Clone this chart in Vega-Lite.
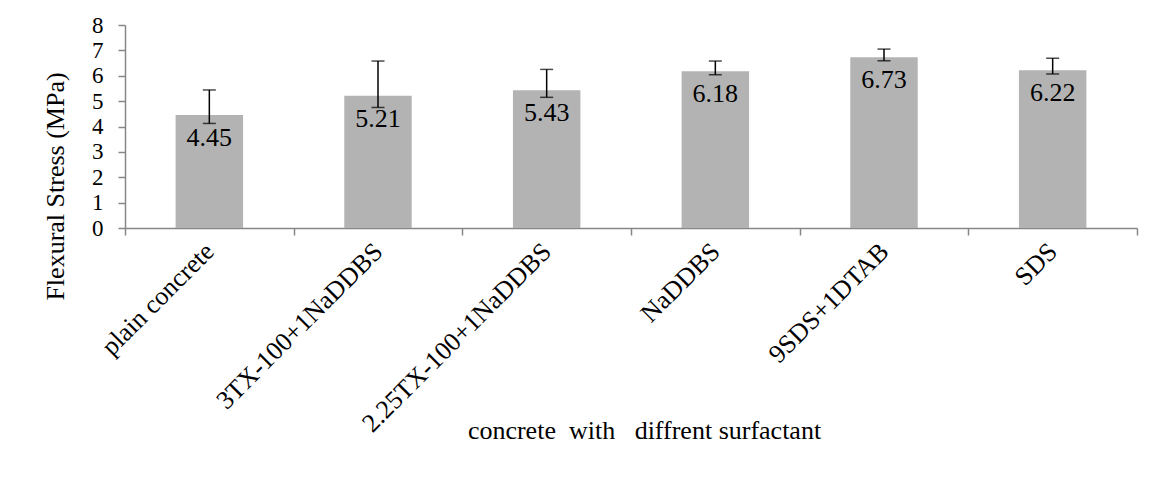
{
  "$schema": "https://vega.github.io/schema/vega-lite/v6.json",
  "width": 1012,
  "height": 203,
  "autosize": "none",
  "padding": {"left": 125, "top": 25, "right": 23, "bottom": 251},
  "background": "white",
  "config": {
    "view": {"stroke": null},
    "font": "Liberation Serif",
    "text": {"font": "Liberation Serif"},
    "axis": {"labelFont": "Liberation Serif", "titleFont": "Liberation Serif", "labelColor": "black", "titleColor": "black", "titleFontWeight": "normal"},
    "axisY": {
      "tickCount": 8,
      "grid": false,
      "labelFontSize": 23,
      "labelOverlap": false,
      "labelPadding": 15,
      "labelBaseline": "middle",
      "tickSize": 7,
      "tickColor": "#878787",
      "domainColor": "#878787",
      "domainWidth": 1.5,
      "tickWidth": 1.5,
      "titleFontSize": 26
    }
  },
  "data": {
    "values": [
      {"surfactant": "plain concrete", "stress": 4.45, "low": 4.12, "high": 5.44},
      {"surfactant": "3TX-100+1NaDDBS", "stress": 5.21, "low": 4.75, "high": 6.58},
      {"surfactant": "2.25TX-100+1NaDDBS", "stress": 5.43, "low": 5.15, "high": 6.25},
      {"surfactant": "NaDDBS", "stress": 6.18, "low": 6.04, "high": 6.58},
      {"surfactant": "9SDS+1DTAB", "stress": 6.73, "low": 6.59, "high": 7.05},
      {"surfactant": "SDS", "stress": 6.22, "low": 6.07, "high": 6.69}
    ]
  },
  "encoding": {
    "x": {
      "field": "surfactant",
      "type": "nominal",
      "sort": null,
      "scale": {"paddingInner": 0, "paddingOuter": 0},
      "axis": {
        "title": "concrete\u00a0\u00a0with\u00a0\u00a0\u00a0diffrent surfactant",
        "titleFont": "Liberation Serif",
        "titleFontSize": 26,
        "titleX": 519,
        "titleY": 210,
        "titleBaseline": "alphabetic",
        "titleAnchor": null,
        "labelAngle": -45,
        "labelAlign": "right",
        "labelBaseline": "middle",
        "labelFont": "Liberation Serif",
        "labelFontSize": 26,
        "labelPadding": 12,
        "labelLimit": 400,
        "tickBand": "extent",
        "tickSize": 7,
        "tickColor": "#878787",
        "domainColor": "#878787",
        "domainWidth": 1.5,
        "tickWidth": 1.5
      }
    }
  },
  "layer": [
    {
      "mark": {"type": "bar", "width": {"band": 0.4}, "color": "#b3b3b3"},
      "encoding": {
        "y": {
          "field": "stress",
          "type": "quantitative",
          "scale": {"domain": [0, 8], "nice": false},
          "axis": {
            "title": "Flexural Stress (MPa)",
            "titleAngle": -90,
            "titleX": -70,
            "titleY": 161,
            "titleAlign": "center",
            "titleBaseline": "middle"
          }
        }
      }
    },
    {
      "mark": {"type": "rule", "color": "black", "strokeWidth": 1.5},
      "encoding": {
        "y": {"field": "low", "type": "quantitative"},
        "y2": {"field": "high"}
      }
    },
    {
      "mark": {"type": "tick", "color": "black", "size": 13, "thickness": 1.5},
      "encoding": {"y": {"field": "low", "type": "quantitative"}}
    },
    {
      "mark": {"type": "tick", "color": "black", "size": 13, "thickness": 1.5},
      "encoding": {"y": {"field": "high", "type": "quantitative"}}
    },
    {
      "mark": {"type": "text", "font": "Liberation Serif", "fontSize": 26, "baseline": "alphabetic", "dy": 31, "color": "black"},
      "encoding": {
        "y": {"field": "stress", "type": "quantitative"},
        "text": {"field": "stress", "type": "quantitative", "format": ".2f"}
      }
    }
  ]
}
